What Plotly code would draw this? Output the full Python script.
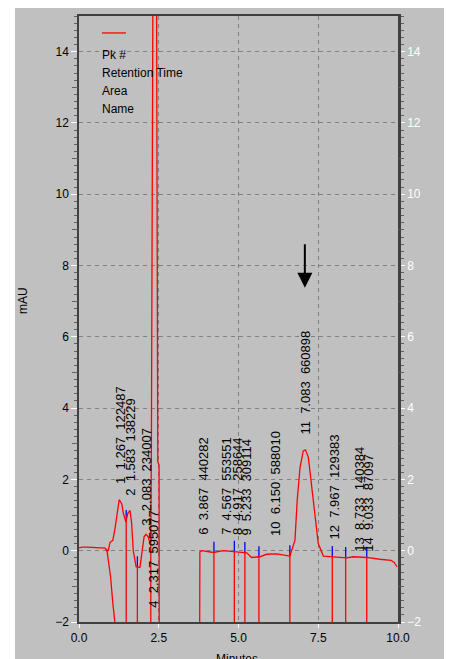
import numpy as np
import plotly.graph_objects as go

# ---------------- data ----------------
time_min = [0.0, 0.1, 0.25, 0.5, 0.82, 0.87, 0.92, 0.97, 1.06, 1.13, 1.2, 1.26, 1.34, 1.39,
            1.47, 1.53, 1.6, 1.65, 1.7, 1.79, 1.91, 1.96, 2.04, 2.1, 2.17, 2.23, 2.25, 2.27,
            2.29, 2.31, 2.37, 2.43, 2.45, 2.47, 2.51, 2.515, 3.78, 3.79, 3.85, 4.21, 4.52,
            4.87, 5.26, 5.41, 5.67, 5.88, 6.2, 6.61, 6.77, 6.84, 6.93, 7.03, 7.1, 7.19, 7.29,
            7.4, 7.5, 7.66, 7.94, 8.39, 8.6, 9.02, 9.43, 9.78, 9.88, 9.97]
signal_mau = [0.08, 0.1, 0.1, 0.09, 0.07, 0.0, 0.01, 0.23, 0.29, 0.63, 1.13, 1.43, 1.32, 1.05,
              0.8, 1.05, 1.13, 0.77, 0.01, -0.45, -0.47, -0.17, 0.39, 0.46, 0.39, 0.2, 0.3, 3.0,
              10.0, 16.0, 30.0, 16.0, 8.0, 2.5, 2.4, -3.0, -3.0, -0.03, 0.0, -0.05, 0.0,
              -0.02, -0.06, -0.19, -0.17, -0.1, -0.09, -0.15, 0.29, 1.41, 2.34, 2.8, 2.83, 2.62,
              1.88, 0.95, 0.2, -0.15, -0.17, -0.2, -0.17, -0.19, -0.24, -0.27, -0.33, -0.45]

front_t = [0.87, 0.99, 1.06, 1.13]
front_y = [0.05, -0.73, -1.47, -2.05]

drop_t = [1.48, 1.83, 2.25, 4.23, 4.87, 5.20, 5.64, 6.61, 7.94, 8.36, 9.02]

peak_no = [1, 2, 3, 4, 6, 7, 8, 9, 10, 11, 12, 13, 14]
ret_time = [1.267, 1.583, 2.083, 2.317, 3.867, 4.567, 4.917, 5.233, 6.150, 7.083, 7.967, 8.733, 9.033]
peak_area = [122487, 138229, 234007, 595077, 440282, 553551, 258644, 309114, 588010,
             660898, 129383, 140384, 87097]
label_base = [1.83, 1.47, 0.66, -1.66, 0.4, 0.38, 0.38, 0.38, 0.35, 3.2, 0.25, -0.08, -0.08]

legend_lines = ["Pk #", "Retention Time", "Area", "Name"]
x_ticks = [0.0, 2.5, 5.0, 7.5, 10.0]
x_ticktext = ["0.0", "2.5", "5.0", "7.5", "10.0"]

# ---------------- styling ----------------
GRAY = "#C0C0C0"
AXIS = "#404040"
FONT = "Liberation Sans, Arial, sans-serif"
OFF = 8                      # page body margin
W, H = 444, 651
ML, MR, MT, MB = 71, 54, 6, 37
PW, PH = W - ML - MR, H - MT - MB

def px_x(px):   # page pixel -> paper fraction
    return (px - OFF - ML) / PW

def px_y(py):
    return (H - MB - (py - OFF)) / PH

fig = go.Figure()

# drop lines (integration boundaries)
drop_top = np.interp(drop_t, time_min, signal_mau)
dx, dy = [], []
for t, top in zip(drop_t, drop_top):
    dx += [t, t, None]
    dy += [-2.5, top, None]
fig.add_trace(go.Scatter(x=dx, y=dy, mode="lines", line=dict(color="#FF0000", width=1.3),
                         hoverinfo="skip", showlegend=False))
# blue boundary tick marks
bx, by = [], []
for t, top in zip(drop_t, drop_top):
    bx += [t, t, None]
    by += [top, top + 0.3, None]
fig.add_trace(go.Scatter(x=bx, y=by, mode="lines", line=dict(color="#0000FF", width=1.3),
                         hoverinfo="skip", showlegend=False))
# solvent front line
fig.add_trace(go.Scatter(x=front_t, y=front_y, mode="lines", line=dict(color="#FF0000", width=1.3),
                         hoverinfo="skip", showlegend=False))
# chromatogram
fig.add_trace(go.Scatter(x=time_min, y=signal_mau, mode="lines",
                         line=dict(color="#FF0000", width=1.3), showlegend=False))
# dummy traces for the extra axes
for ax in ["y2", "y3", "y4"]:
    fig.add_trace(go.Scatter(x=[None], y=[None], yaxis=ax, showlegend=False, hoverinfo="skip"))

annotations = []
for n, rt, a, yb in zip(peak_no, ret_time, peak_area, label_base):
    txt = f"{n}\u00a0\u00a0{rt:.3f}\u00a0\u00a0{a}"
    annotations.append(dict(x=rt, y=yb, xref="x", yref="y", text=txt, showarrow=False,
                            textangle=-90, xanchor="center", yanchor="bottom", xshift=1,
                            font=dict(family=FONT, size=13, color="black")))

legend_y = [53, 71, 89, 107]
for t, py in zip(legend_lines, legend_y):
    annotations.append(dict(x=px_x(100), y=px_y(py), xref="paper", yref="paper", text=t,
                            showarrow=False, xanchor="left", yanchor="middle",
                            font=dict(family=FONT, size=12, color="black")))

annotations.append(dict(x=px_x(23), y=px_y(300), xref="paper", yref="paper", text="mAU",
                        showarrow=False, textangle=-90, xanchor="center", yanchor="middle",
                        font=dict(family=FONT, size=12, color="black")))
annotations.append(dict(x=px_x(449), y=px_y(300), xref="paper", yref="paper", text="mAU",
                        showarrow=False, textangle=-90, xanchor="left", yanchor="middle",
                        font=dict(family=FONT, size=12, color="#E8E8E8")))
annotations.append(dict(x=px_x(237), y=px_y(650), xref="paper", yref="paper", text="Minutes",
                        showarrow=False, xanchor="center", yanchor="top",
                        font=dict(family=FONT, size=12, color="black")))
# arrow pointing at peak 11
annotations.append(dict(x=7.08, y=7.38, ax=7.08, ay=8.64, xref="x", yref="y", axref="x", ayref="y",
                        text="", showarrow=True, arrowhead=2, arrowsize=1.5, arrowwidth=2,
                        arrowcolor="black", standoff=0))

shapes = [
    # white strip left of the grey panel
    dict(type="rect", xref="paper", yref="paper", x0=px_x(0), x1=px_x(15), y0=px_y(700), y1=px_y(0),
         fillcolor="white", line=dict(width=0), layer="above"),
    # legend swatch
    dict(type="line", xref="paper", yref="paper", x0=px_x(102), x1=px_x(126), y0=px_y(31), y1=px_y(31),
         line=dict(color="#FF0000", width=1.3)),
]

yrange = [-2, 15]
fig.update_layout(
    width=W, height=H,
    margin=dict(l=ML, r=MR, t=MT, b=MB, pad=0),
    paper_bgcolor=GRAY, plot_bgcolor=GRAY,
    font=dict(family=FONT, size=12, color="black"),
    showlegend=False,
    annotations=annotations,
    shapes=shapes,
    xaxis=dict(range=[0, 10], tickmode="array", tickvals=x_ticks, ticktext=x_ticktext,
               ticks="outside", ticklen=4, tickcolor="white", tickwidth=1,
               showgrid=True, gridcolor="#808080", griddash="4px,4px", gridwidth=1,
               showline=True, linecolor=AXIS, linewidth=1.5, mirror=True, zeroline=False,
               tickfont=dict(family=FONT, size=12, color="black")),
    yaxis=dict(range=yrange, tickmode="linear", tick0=-2, dtick=2,
               ticks="outside", ticklen=6, tickcolor="white", tickwidth=1,
               minor=dict(dtick=0.2, tick0=-2, ticklen=3, tickcolor="#606060", ticks="outside",
                          showgrid=False),
               showgrid=True, gridcolor="#808080", griddash="4px,4px", gridwidth=1,
               showline=True, linecolor=AXIS, linewidth=1.5, zeroline=False,
               tickfont=dict(family=FONT, size=12, color="black")),
    yaxis2=dict(range=yrange, overlaying="y", side="right", tickmode="linear", tick0=-2, dtick=2,
                ticks="outside", ticklen=4, tickcolor="white", tickwidth=1,
                minor=dict(dtick=0.2, tick0=-2, ticklen=3, tickcolor="#606060", ticks="outside",
                           showgrid=False),
                showgrid=False, showline=True, linecolor=AXIS, linewidth=2.5, zeroline=False,
                tickfont=dict(family=FONT, size=12, color="white")),
    yaxis3=dict(range=yrange, overlaying="y", side="left", tickmode="array",
                tickvals=list(range(-1, 15, 2)), ticks="outside", ticklen=6, tickcolor="#606060",
                showticklabels=False, showgrid=False, showline=False, zeroline=False),
    yaxis4=dict(range=yrange, overlaying="y", side="right", tickmode="array",
                tickvals=list(range(-1, 15, 2)), ticks="outside", ticklen=5, tickcolor="#606060",
                showticklabels=False, showgrid=False, showline=False, zeroline=False),
)

fig.write_html("out.html")
